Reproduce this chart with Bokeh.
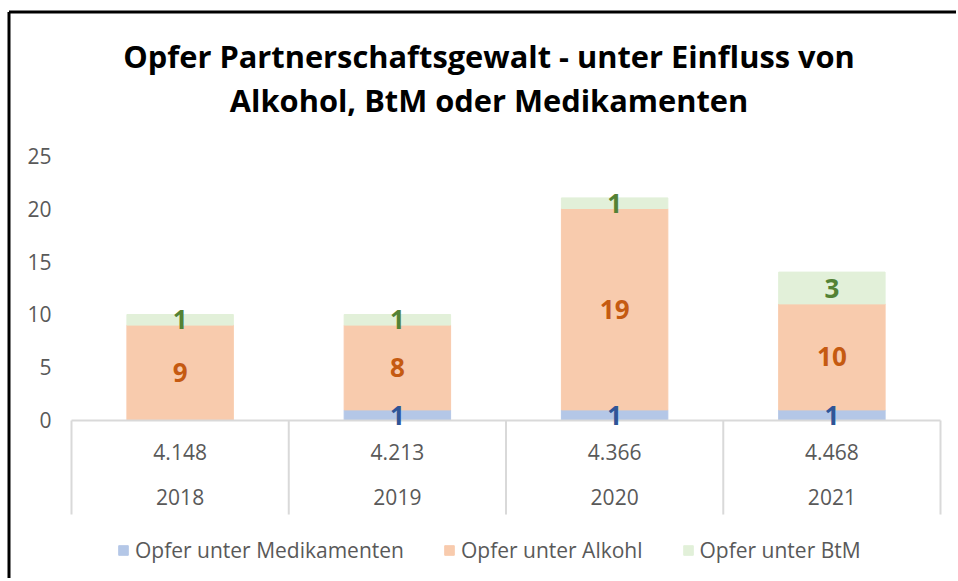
from bokeh.plotting import figure
from bokeh.models import ColumnDataSource, Legend, LegendItem, Range1d
from bokeh.core.properties import value
from bokeh.embed import file_html
from bokeh.resources import INLINE

# ---- data ----
years = ["2018", "2019", "2020", "2021"]
totals = ["4.148", "4.213", "4.366", "4.468"]
series = ["Opfer unter Medikamenten", "Opfer unter Alkohl", "Opfer unter BtM"]
medikamente = [0, 1, 1, 1]
alkohol = [9, 8, 19, 10]
btm = [1, 1, 1, 3]
y_ticks = [0, 5, 10, 15, 20, 25]
title_lines = ["Opfer Partnerschaftsgewalt - unter Einfluss von", "Alkohol, BtM oder Medikamenten"]

fills = ["#B4C7E7", "#F8CBAD", "#E2F0D9"]
label_colors = ["#2F5597", "#C55A11", "#548235"]
FONT = "Open Sans"
GRAY = "#595959"

n = len(years)
xi = list(range(n))  # category positions
src = ColumnDataSource(dict(x=xi, year=years, m=medikamente, a=alkohol, b=btm))

X0, X1 = -0.8268, n - 0.5 + 0.0736
Y0, Y1 = -14.906, 39.623
p = figure(width=956, height=578, x_range=Range1d(X0, X1), y_range=Range1d(Y0, Y1),
           output_backend="svg", toolbar_location=None,
           min_border_left=0, min_border_right=0, min_border_top=0, min_border_bottom=0)
p.outline_line_color = None
p.grid.visible = False
p.axis.visible = False

# Excel chart-area border (top and left edges visible), drawn as plain line glyphs
bx = X0 + 8.5 / 217.25
by = Y1 - 11.5 / 10.6
p.segment(x0=[bx, bx], y0=[by, by], x1=[X1 + 1, bx], y1=[by, Y0 - 1],
          line_color="black", line_width=3)

# value axis labels
p.text(x=[-0.5] * len(y_ticks), y=y_ticks, text=[str(t) for t in y_ticks], x_offset=-20,
       text_align="right", text_baseline="middle", text_font=value(FONT),
       text_font_size="21px", text_color=GRAY)

rs = p.vbar_stack(["m", "a", "b"], x="x", width=0.49, color=fills, source=src)

# category axis (Excel multi-level style)
sep_x = [i - 0.5 for i in xi] + [xi[-1] + 0.5]
p.segment(x0=sep_x, y0=[0] * len(sep_x), x1=sep_x, y1=[-8.87] * len(sep_x),
          line_color="#D9D9D9", line_width=2)
p.segment(x0=[sep_x[0]], y0=[0], x1=[sep_x[-1]], y1=[0], line_color="#D9D9D9", line_width=2)
p.text(x=xi, y=[-3.0] * n, text=totals, text_align="center", text_baseline="middle",
       text_font=value(FONT), text_font_size="21px", text_color=GRAY)
p.text(x=xi, y=[-7.2] * n, text=years, text_align="center", text_baseline="middle",
       text_font=value(FONT), text_font_size="21px", text_color=GRAY)

# data labels
lx, ly, lt, lc = [], [], [], []
cols = [medikamente, alkohol, btm]
for i in xi:
    base = 0
    for s, vals in enumerate(cols):
        v = vals[i]
        if v:
            lx.append(i); ly.append(base + v / 2); lt.append(str(v)); lc.append(label_colors[s])
        base += v
p.text(x="x", y="y", text="t", text_color="c", source=ColumnDataSource(dict(x=lx, y=ly, t=lt, c=lc)),
       text_align="center", text_baseline="middle", text_font=value(FONT),
       text_font_style="bold", text_font_size="26px")

# title (two centred lines)
p.text(x=[(n - 1) / 2 - 0.078] * 2, y=[34.34, 30.19], text=title_lines, text_align="center",
       text_baseline="middle", text_font=value(FONT), text_font_style="bold",
       text_font_size="30.8px", text_color="black")

legend = Legend(items=[LegendItem(label=series[i], renderers=[rs[i]]) for i in range(3)],
                orientation="horizontal", location=(117, 14), glyph_width=12, glyph_height=12,
                label_text_font=FONT, label_text_font_size="21px", label_text_color=GRAY,
                spacing=39, label_standoff=6, padding=0, margin=0,
                border_line_color=None, background_fill_alpha=0)
p.add_layout(legend, "center")

open("out.html", "w").write(file_html(p, INLINE))
